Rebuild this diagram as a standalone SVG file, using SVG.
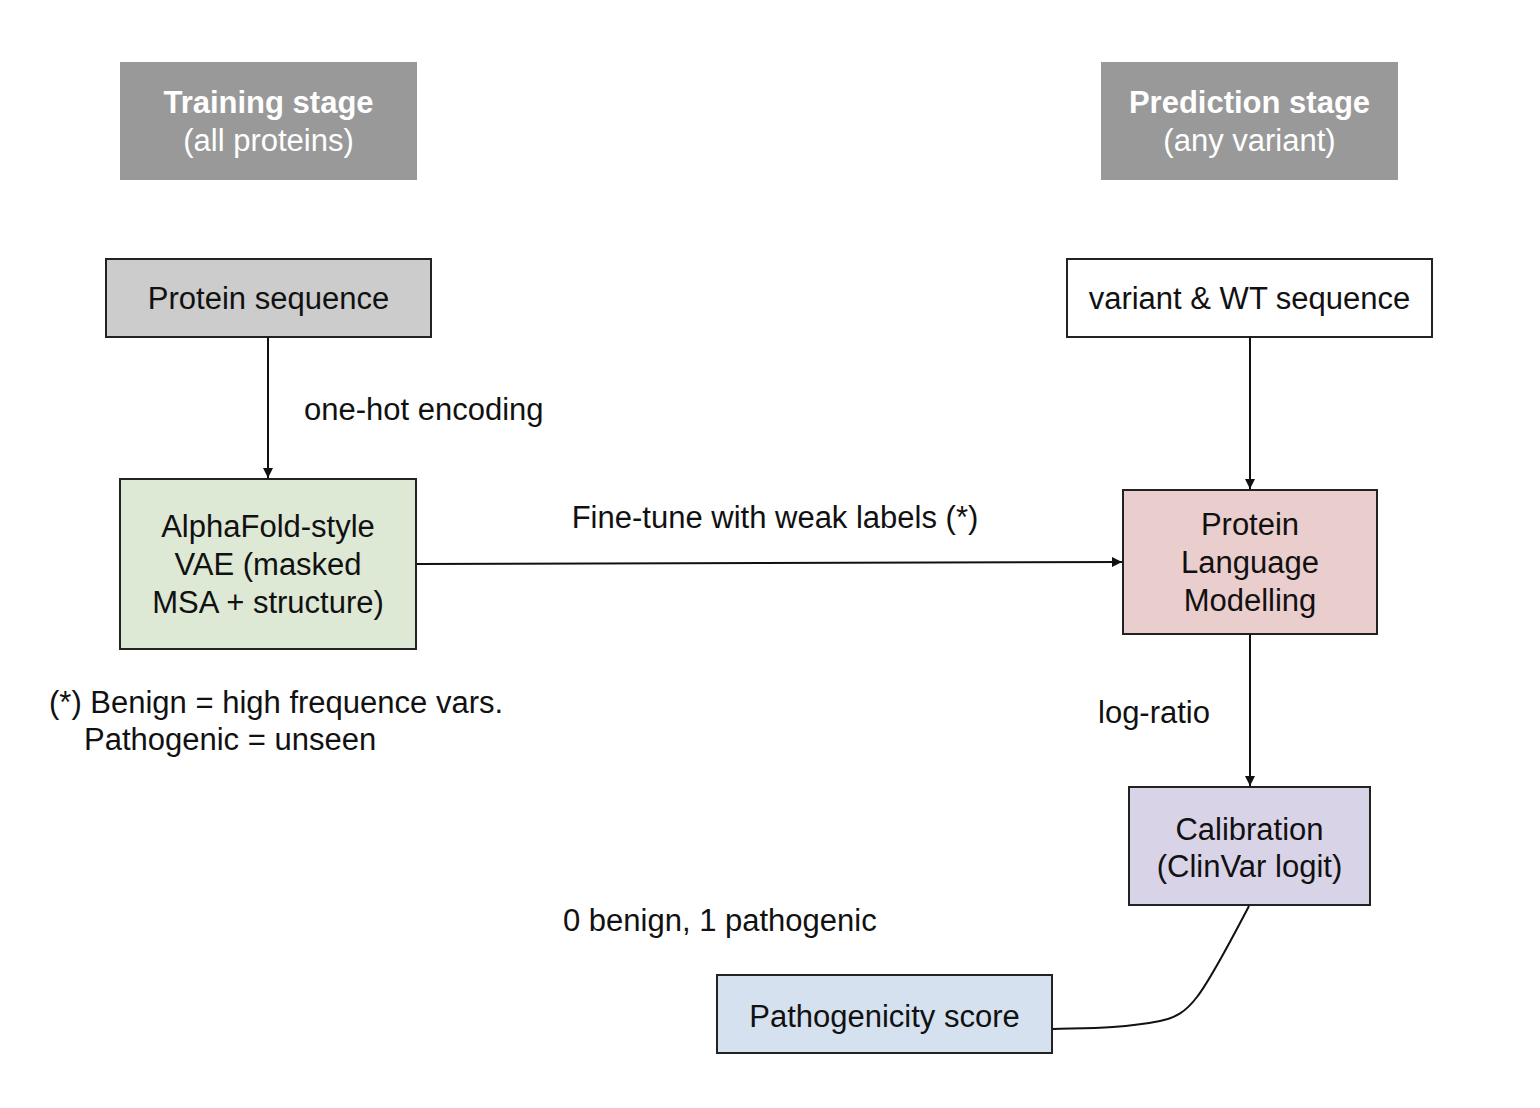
<svg xmlns="http://www.w3.org/2000/svg" width="1540" height="1108" viewBox="0 0 1540 1108">
<style>
text{font-family:"Liberation Sans",Arial,Helvetica,sans-serif;font-size:31px;fill:#111}
.c{text-anchor:middle}
.hd{fill:#ffffff}
.b{font-weight:bold}
.box{stroke:#222;stroke-width:2}
.ln{fill:none;stroke:#111;stroke-width:2}
</style>
<defs>
<marker id="ah" viewBox="0 0 10 10" refX="10" refY="5" markerWidth="11" markerHeight="10" markerUnits="userSpaceOnUse" orient="auto">
<path d="M0,0 L10,5 L0,10 z" fill="#111"/>
</marker>
</defs>
<rect width="1540" height="1108" fill="#ffffff"/>
<g id="training-header">
<rect x="120" y="62" width="297" height="118" fill="#999999"/>
<text class="c hd b" x="268.5" y="113">Training stage</text>
<text class="c hd" x="268.5" y="151">(all proteins)</text>
</g>
<g id="prediction-header">
<rect x="1101" y="62" width="297" height="118" fill="#999999"/>
<text class="c hd b" x="1249.5" y="113">Prediction stage</text>
<text class="c hd" x="1249.5" y="151">(any variant)</text>
</g>
<g id="protein-sequence">
<rect class="box" x="106" y="259" width="325" height="78" fill="#cccccc"/>
<text class="c" x="268.5" y="309">Protein sequence</text>
</g>
<g id="variant-wt">
<rect class="box" x="1067" y="259" width="365" height="78" fill="#ffffff"/>
<text class="c" x="1249.5" y="309">variant &amp; WT sequence</text>
</g>
<g id="alphafold">
<rect class="box" x="120" y="479" width="296" height="170" fill="#dde8d5"/>
<text class="c" x="268" y="537">AlphaFold-style</text>
<text class="c" x="268" y="575">VAE (masked</text>
<text class="c" x="268" y="613">MSA + structure)</text>
</g>
<g id="plm">
<rect class="box" x="1123" y="490" width="254" height="144" fill="#eacdcd"/>
<text class="c" x="1250" y="535">Protein</text>
<text class="c" x="1250" y="573">Language</text>
<text class="c" x="1250" y="611">Modelling</text>
</g>
<g id="calibration">
<rect class="box" x="1129" y="787" width="241" height="118" fill="#d9d3e8"/>
<text class="c" x="1249.5" y="840">Calibration</text>
<text class="c" x="1249.5" y="877">(ClinVar logit)</text>
</g>
<g id="pathogenicity">
<rect class="box" x="717" y="975" width="335" height="78" fill="#d5e1ef"/>
<text class="c" x="884.5" y="1027">Pathogenicity score</text>
</g>
<g id="connectors">
<path class="ln" d="M268,337 L268,478" marker-end="url(#ah)"/>
<path class="ln" d="M1250,337 L1250,489" marker-end="url(#ah)"/>
<path class="ln" d="M417,564 L1122,562" marker-end="url(#ah)"/>
<path class="ln" d="M1250,634 L1250,786" marker-end="url(#ah)"/>
<path class="ln" d="M1249,906 C1200,1000 1190,1015 1160,1021 C1120,1029 1080,1028 1053,1029"/>
</g>
<g id="labels">
<text x="304" y="420">one-hot encoding</text>
<text class="c" x="775" y="528">Fine-tune with weak labels (*)</text>
<text x="1098" y="723">log-ratio</text>
<text x="563" y="931">0 benign, 1 pathogenic</text>
<text x="49" y="713">(*) Benign = high frequence vars.</text>
<text x="84" y="750">Pathogenic = unseen</text>
</g>
</svg>
